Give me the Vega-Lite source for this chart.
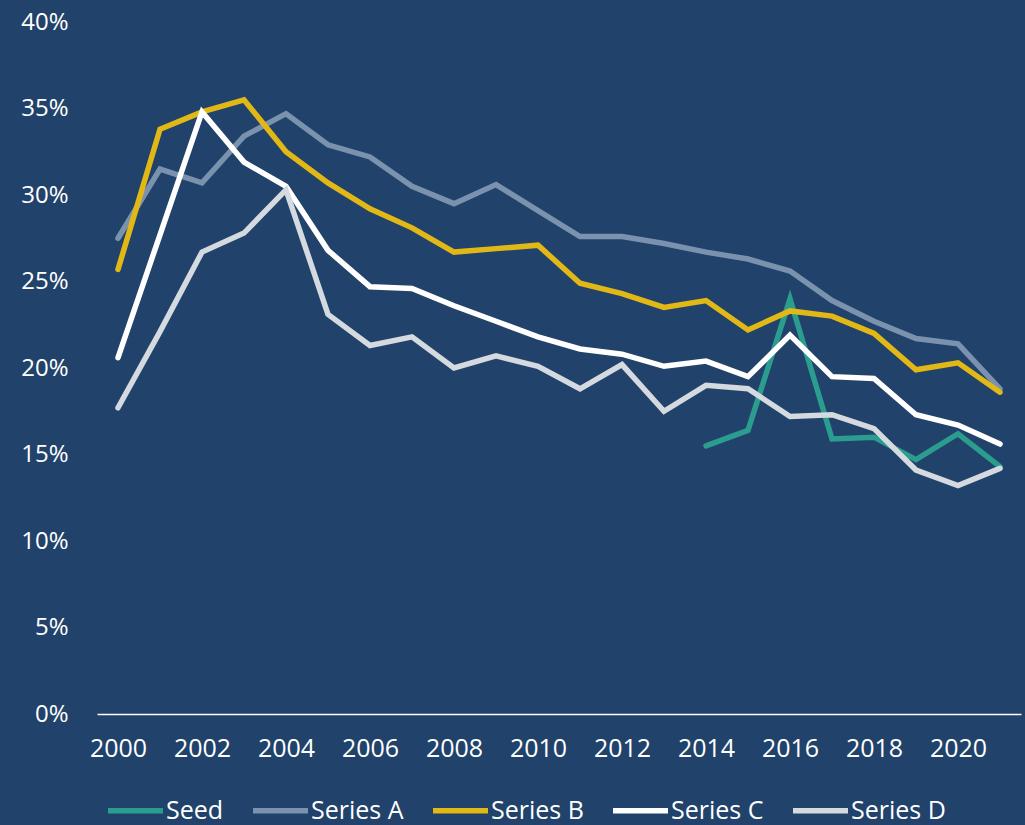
{
  "$schema": "https://vega.github.io/schema/vega-lite/v6.json",
  "width": 924,
  "height": 692,
  "autosize": {"type": "none"},
  "padding": {"left": 97, "top": 22, "right": 4, "bottom": 111},
  "background": "#21426A",
  "config": {"view": {"stroke": null}},
  "datasets": {
    "rows": [
      {"year": 2014, "series": "Seed", "value": 15.5},
      {"year": 2015, "series": "Seed", "value": 16.4},
      {"year": 2016, "series": "Seed", "value": 24.0},
      {"year": 2017, "series": "Seed", "value": 15.9},
      {"year": 2018, "series": "Seed", "value": 16.0},
      {"year": 2019, "series": "Seed", "value": 14.7},
      {"year": 2020, "series": "Seed", "value": 16.2},
      {"year": 2021, "series": "Seed", "value": 14.3},

      {"year": 2000, "series": "Series A", "value": 27.5},
      {"year": 2001, "series": "Series A", "value": 31.5},
      {"year": 2002, "series": "Series A", "value": 30.7},
      {"year": 2003, "series": "Series A", "value": 33.4},
      {"year": 2004, "series": "Series A", "value": 34.7},
      {"year": 2005, "series": "Series A", "value": 32.9},
      {"year": 2006, "series": "Series A", "value": 32.2},
      {"year": 2007, "series": "Series A", "value": 30.5},
      {"year": 2008, "series": "Series A", "value": 29.5},
      {"year": 2009, "series": "Series A", "value": 30.6},
      {"year": 2010, "series": "Series A", "value": 29.1},
      {"year": 2011, "series": "Series A", "value": 27.6},
      {"year": 2012, "series": "Series A", "value": 27.6},
      {"year": 2013, "series": "Series A", "value": 27.2},
      {"year": 2014, "series": "Series A", "value": 26.7},
      {"year": 2015, "series": "Series A", "value": 26.3},
      {"year": 2016, "series": "Series A", "value": 25.6},
      {"year": 2017, "series": "Series A", "value": 23.9},
      {"year": 2018, "series": "Series A", "value": 22.7},
      {"year": 2019, "series": "Series A", "value": 21.7},
      {"year": 2020, "series": "Series A", "value": 21.4},
      {"year": 2021, "series": "Series A", "value": 18.8},

      {"year": 2000, "series": "Series B", "value": 25.7},
      {"year": 2001, "series": "Series B", "value": 33.8},
      {"year": 2002, "series": "Series B", "value": 34.8},
      {"year": 2003, "series": "Series B", "value": 35.5},
      {"year": 2004, "series": "Series B", "value": 32.5},
      {"year": 2005, "series": "Series B", "value": 30.7},
      {"year": 2006, "series": "Series B", "value": 29.2},
      {"year": 2007, "series": "Series B", "value": 28.1},
      {"year": 2008, "series": "Series B", "value": 26.7},
      {"year": 2009, "series": "Series B", "value": 26.9},
      {"year": 2010, "series": "Series B", "value": 27.1},
      {"year": 2011, "series": "Series B", "value": 24.9},
      {"year": 2012, "series": "Series B", "value": 24.3},
      {"year": 2013, "series": "Series B", "value": 23.5},
      {"year": 2014, "series": "Series B", "value": 23.9},
      {"year": 2015, "series": "Series B", "value": 22.2},
      {"year": 2016, "series": "Series B", "value": 23.3},
      {"year": 2017, "series": "Series B", "value": 23.0},
      {"year": 2018, "series": "Series B", "value": 22.0},
      {"year": 2019, "series": "Series B", "value": 19.9},
      {"year": 2020, "series": "Series B", "value": 20.3},
      {"year": 2021, "series": "Series B", "value": 18.6},

      {"year": 2000, "series": "Series C", "value": 20.6},
      {"year": 2001, "series": "Series C", "value": 27.7},
      {"year": 2002, "series": "Series C", "value": 34.8},
      {"year": 2003, "series": "Series C", "value": 31.9},
      {"year": 2004, "series": "Series C", "value": 30.5},
      {"year": 2005, "series": "Series C", "value": 26.8},
      {"year": 2006, "series": "Series C", "value": 24.7},
      {"year": 2007, "series": "Series C", "value": 24.6},
      {"year": 2008, "series": "Series C", "value": 23.6},
      {"year": 2009, "series": "Series C", "value": 22.7},
      {"year": 2010, "series": "Series C", "value": 21.8},
      {"year": 2011, "series": "Series C", "value": 21.1},
      {"year": 2012, "series": "Series C", "value": 20.8},
      {"year": 2013, "series": "Series C", "value": 20.1},
      {"year": 2014, "series": "Series C", "value": 20.4},
      {"year": 2015, "series": "Series C", "value": 19.5},
      {"year": 2016, "series": "Series C", "value": 21.9},
      {"year": 2017, "series": "Series C", "value": 19.5},
      {"year": 2018, "series": "Series C", "value": 19.4},
      {"year": 2019, "series": "Series C", "value": 17.3},
      {"year": 2020, "series": "Series C", "value": 16.7},
      {"year": 2021, "series": "Series C", "value": 15.6},

      {"year": 2000, "series": "Series D", "value": 17.7},
      {"year": 2001, "series": "Series D", "value": 22.1},
      {"year": 2002, "series": "Series D", "value": 26.7},
      {"year": 2003, "series": "Series D", "value": 27.8},
      {"year": 2004, "series": "Series D", "value": 30.3},
      {"year": 2005, "series": "Series D", "value": 23.1},
      {"year": 2006, "series": "Series D", "value": 21.3},
      {"year": 2007, "series": "Series D", "value": 21.8},
      {"year": 2008, "series": "Series D", "value": 20.0},
      {"year": 2009, "series": "Series D", "value": 20.7},
      {"year": 2010, "series": "Series D", "value": 20.1},
      {"year": 2011, "series": "Series D", "value": 18.8},
      {"year": 2012, "series": "Series D", "value": 20.2},
      {"year": 2013, "series": "Series D", "value": 17.5},
      {"year": 2014, "series": "Series D", "value": 19.0},
      {"year": 2015, "series": "Series D", "value": 18.8},
      {"year": 2016, "series": "Series D", "value": 17.2},
      {"year": 2017, "series": "Series D", "value": 17.3},
      {"year": 2018, "series": "Series D", "value": 16.5},
      {"year": 2019, "series": "Series D", "value": 14.1},
      {"year": 2020, "series": "Series D", "value": 13.2},
      {"year": 2021, "series": "Series D", "value": 14.2}
    ]
  },
  "data": {"name": "rows"},
  "mark": {"type": "line", "strokeWidth": 5.5, "strokeCap": "round", "strokeJoin": "miter"},
  "encoding": {
    "x": {
      "field": "year",
      "type": "quantitative",
      "scale": {"domain": [1999.5, 2021.5], "nice": false, "zero": false},
      "axis": {
        "values": [2000, 2002, 2004, 2006, 2008, 2010, 2012, 2014, 2016, 2018, 2020],
        "format": "d",
        "title": null,
        "grid": false,
        "ticks": false,
        "tickSize": 0,
        "domainColor": "#FFFFFF",
        "domainWidth": 1.5,
        "labelColor": "#FFFFFF",
        "labelFont": "Open Sans",
        "labelFontSize": 25,
        "labelPadding": 22
      }
    },
    "y": {
      "field": "value",
      "type": "quantitative",
      "scale": {"domain": [0, 40], "nice": false},
      "axis": {
        "values": [0, 5, 10, 15, 20, 25, 30, 35, 40],
        "labelExpr": "datum.value + '%'",
        "title": null,
        "grid": false,
        "ticks": false,
        "tickSize": 0,
        "domain": false,
        "labelColor": "#FFFFFF",
        "labelFont": "Open Sans",
        "labelFontSize": 24,
        "labelPadding": 29
      }
    },
    "color": {
      "field": "series",
      "type": "nominal",
      "scale": {
        "domain": ["Seed", "Series A", "Series B", "Series C", "Series D"],
        "range": ["#2A9D8F", "#7A92AE", "#E2B817", "#FFFFFF", "#D5D9E0"]
      },
      "legend": {
        "title": null,
        "orient": "none",
        "direction": "horizontal",
        "legendX": 8,
        "legendY": 758,
        "symbolType": "stroke",
        "symbolSize": 3025,
        "symbolStrokeWidth": 5.5,
        "labelColor": "#FFFFFF",
        "labelFont": "Open Sans",
        "labelFontSize": 25,
        "labelOffset": 0,
        "columnPadding": 18,
        "labelLimit": 300
      }
    }
  }
}
